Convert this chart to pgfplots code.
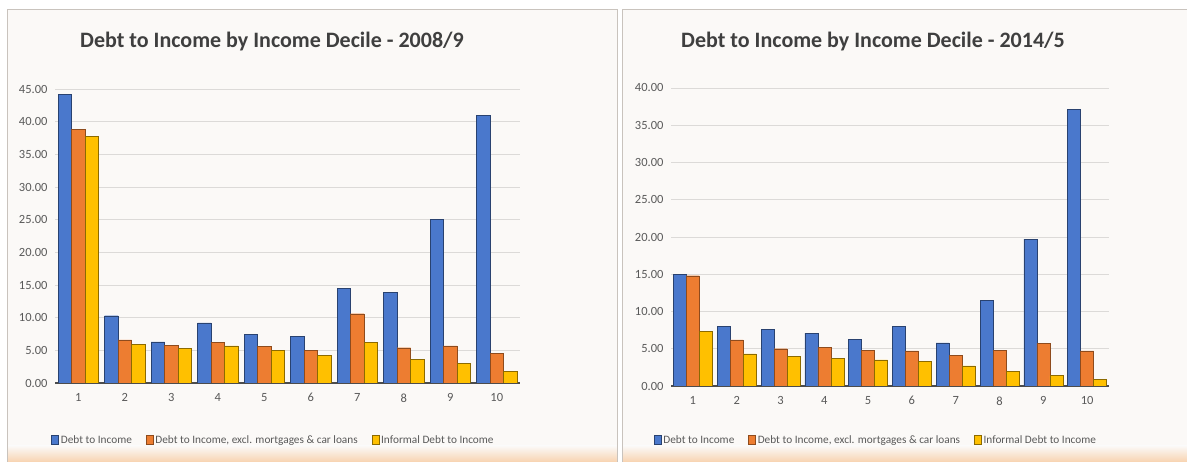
\documentclass[border=0pt]{standalone}
\usepackage{pgfplots}
\pgfplotsset{compat=1.18}
\usepackage{fontspec}
\setmainfont{Carlito}
\definecolor{cblue}{HTML}{4A78CC}
\definecolor{corange}{HTML}{ED7D31}
\definecolor{cyellow}{HTML}{FFC000}
\definecolor{panelbg}{HTML}{FBF9F7}
\definecolor{panelborder}{HTML}{C9C3BD}
\definecolor{titlegray}{HTML}{3F3F3F}
\definecolor{textgray}{HTML}{595959}
\definecolor{gridgray}{HTML}{DCDAD8}
\definecolor{bandorange}{HTML}{F8D3B0}

\pgfplotstableread{
x a b c
1 44.2 38.8 37.8
2 10.3 6.6 5.9
3 6.3 5.8 5.3
4 9.2 6.2 5.7
5 7.4 5.6 5.0
6 7.1 5.0 4.2
7 14.5 10.6 6.2
8 13.9 5.4 3.6
9 25.1 5.7 3.0
10 41.0 4.5 1.8
}\dataA
\pgfplotstableread{
x a b c
1 15.0 14.8 7.3
2 8.0 6.2 4.3
3 7.6 5.0 4.0
4 7.1 5.2 3.7
5 6.3 4.8 3.5
6 8.0 4.7 3.3
7 5.8 4.1 2.7
8 11.5 4.8 2.0
9 19.7 5.7 1.4
10 37.1 4.7 0.9
}\dataB

\pgfplotsset{
  panelaxis/.style={
    scale only axis,
    ybar=0pt,
    bar width=13.5pt,
    ymin=0,
    xmin=0.5, xmax=10.5,
    xtick={1,...,10},
    axis x line*=bottom,
    axis y line*=left,
    y axis line style={draw=none},
    x axis line style={draw=black!70, line width=1.6pt},
    major tick length=0pt,
    ymajorgrids,
    grid style={gridgray, line width=0.8pt},
    tick label style={font=\fontsize{12.5}{14}\selectfont, text=textgray, /pgf/number format/assume math mode=true},
    yticklabel style={/pgf/number format/fixed, /pgf/number format/fixed zerofill, /pgf/number format/precision=2, xshift=-4pt},
    xticklabel style={yshift=-7pt},
    legend columns=3,
    legend style={draw=none, fill=none, font=\fontsize{11.3}{12}\selectfont, text=textgray, /tikz/every even column/.append style={column sep=12pt}},
    legend image code/.code={\fill[#1] (0pt,-4pt) rectangle (7pt,5pt);},
  },
  sblue/.style={draw=cblue!55!black, line width=0.4pt, fill=cblue},
  sorange/.style={draw=corange!60!black, line width=0.4pt, fill=corange},
  syellow/.style={draw=cyellow!55!black, line width=0.4pt, fill=cyellow},
}

\begin{document}
\begin{tikzpicture}[x=1pt,y=1pt]
\useasboundingbox (0,0) rectangle (1187,462);
\fill[white] (0,0) rectangle (1187,462);
% left panel
\fill[panelbg] (7,0) rectangle (617,453);
\shade[top color=panelbg, bottom color=bandorange] (7,0) rectangle (617,16);
\draw[panelborder, line width=0.8pt] (7,0) -- (7,453) -- (617,453) -- (617,0);
% right panel
\fill[panelbg] (622,0) rectangle (1187,453);
\shade[top color=panelbg, bottom color=bandorange] (622,0) rectangle (1187,16);
\draw[panelborder, line width=0.8pt] (622,0) -- (622,453) -- (1187,453);

\node[font=\fontsize{22}{26}\selectfont\bfseries, text=titlegray] at (272,420) {Debt to Income by Income Decile - 2008/9};
\node[font=\fontsize{22}{26}\selectfont\bfseries, text=titlegray] at (873,420) {Debt to Income by Income Decile - 2014/5};

\begin{axis}[panelaxis,
  at={(55pt,79pt)}, anchor=south west,
  width=465pt, height=294pt,
  ymax=45, ytick={0,5,...,45},
  legend style={at={(0.47,-0.195)}, anchor=center},
]
\addplot[sblue] table[x=x,y=a]{\dataA};
\addplot[sorange] table[x=x,y=b]{\dataA};
\addplot[syellow] table[x=x,y=c]{\dataA};
\legend{Debt to Income, {Debt to Income, excl. mortgages \& car loans}, Informal Debt to Income}
\end{axis}

\begin{axis}[panelaxis,
  at={(671pt,76pt)}, anchor=south west,
  width=438pt, height=298pt,
  bar width=13pt,
  ymax=40, ytick={0,5,...,40},
  legend style={at={(0.468,-0.181)}, anchor=center},
]
\addplot[sblue] table[x=x,y=a]{\dataB};
\addplot[sorange] table[x=x,y=b]{\dataB};
\addplot[syellow] table[x=x,y=c]{\dataB};
\legend{Debt to Income, {Debt to Income, excl. mortgages \& car loans}, Informal Debt to Income}
\end{axis}
\end{tikzpicture}
\end{document}
